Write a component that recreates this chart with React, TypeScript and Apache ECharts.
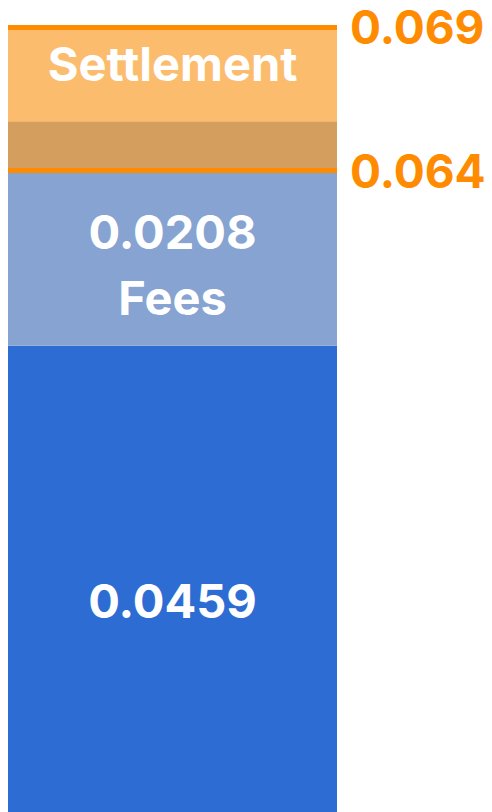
import React, { useEffect, useRef } from "react";
import * as echarts from "echarts";

const categories = ["Cost"];
const baseValues = [0.0459];
const feeValues = [0.0208];
const settlementLow = [0.064];
const settlementHigh = [0.069];
const settlementLabel = "Settlement";
const feeLabel = "Fees";

const FONT = "Inter, Lato, 'Noto Sans', sans-serif";

export default function App() {
  const ref = useRef<HTMLDivElement>(null);
  useEffect(() => {
    if (!ref.current) return;
    const chart = echarts.init(ref.current, undefined, { renderer: "svg" });
    const span = settlementHigh.map((h, i) => +(h - settlementLow[i]).toFixed(6));
    const textBase = {
      color: "#ffffff",
      fontFamily: FONT,
      fontWeight: 700,
      fontSize: 47,
    };
    chart.setOption({
      animation: false,
      grid: { left: 8, right: 155, top: 0, bottom: 0, containLabel: false },
      xAxis: { type: "category", data: categories, show: false },
      yAxis: [
        { type: "value", min: 0.0026, max: 0.078, show: false, splitLine: { show: false } },
        { type: "value", min: 0.0417, max: 0.06993, show: false, splitLine: { show: false } },
      ],
      series: [
        {
          type: "bar",
          stack: "cost",
          yAxisIndex: 0,
          barWidth: "100%",
          barGap: "-100%",
          data: baseValues,
          itemStyle: { color: "#2D6CD3" },
          label: {
            show: true,
            position: "insideTop",
            distance: 225,
            lineHeight: 60,
            formatter: "{c}",
            ...textBase,
          },
        },
        {
          type: "bar",
          stack: "cost",
          yAxisIndex: 0,
          barWidth: "100%",
          barGap: "-100%",
          data: feeValues,
          itemStyle: { color: "#86A3D1" },
          label: {
            show: true,
            position: "insideTop",
            distance: 77,
            lineHeight: 66,
            formatter: (p: any) => `${p.value}\n${feeLabel}`,
            ...textBase,
          },
        },
        {
          type: "bar",
          stack: "settle",
          yAxisIndex: 1,
          barWidth: "100%",
          barGap: "-100%",
          data: settlementLow,
          itemStyle: { color: "rgba(0,0,0,0)" },
          silent: true,
        },
        {
          type: "bar",
          stack: "settle",
          yAxisIndex: 1,
          barWidth: "100%",
          barGap: "-100%",
          data: span,
          itemStyle: { color: "rgba(249,156,41,0.68)" },
          label: {
            show: true,
            position: "insideTop",
            distance: 7,
            lineHeight: 60,
            formatter: settlementLabel,
            ...textBase,
          },
          markLine: {
            silent: true,
            symbol: "none",
            precision: 4,
            lineStyle: { color: "#FF8C00", width: 5, type: "solid" },
            label: {
              show: true,
              position: "end",
              distance: 13,
              formatter: "{c}",
              color: "#FF8C00",
              fontFamily: FONT,
              fontWeight: 700,
              fontSize: 46,
              lineHeight: 44,
            },
            data: [{ yAxis: settlementHigh[0] }, { yAxis: settlementLow[0] }],
          },
        },
      ],
    });
    return () => chart.dispose();
  }, []);
  return (
    <div
      ref={ref}
      style={{ position: "absolute", left: 0, top: 0, width: 492, height: 812 }}
    />
  );
}
